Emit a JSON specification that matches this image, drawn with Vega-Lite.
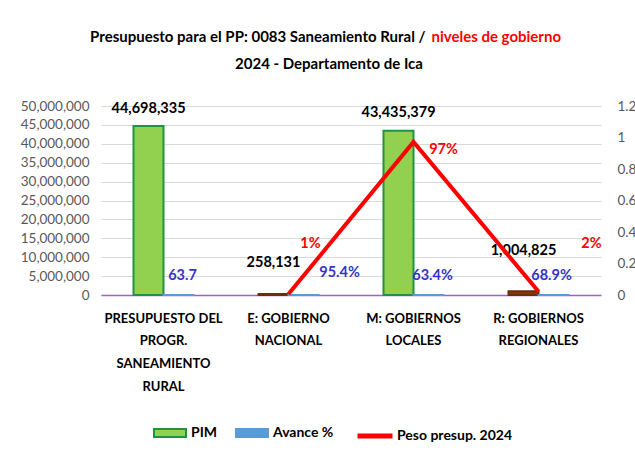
{
  "$schema": "https://vega.github.io/schema/vega-lite/v6.json",
  "width": 500,
  "height": 189,
  "autosize": "none",
  "padding": {"left": 101, "top": 106, "right": 34, "bottom": 159},
  "background": "white",
  "config": {
    "font": "Lato",
    "view": {"stroke": null}
  },
  "datasets": {
    "niveles": [
      {"nivel": "PRESUPUESTO DEL PROGR. SANEAMIENTO RURAL", "PIM": 44698335, "Avance %": 63.7, "peso": null},
      {"nivel": "E: GOBIERNO NACIONAL", "PIM": 258131, "Avance %": 95.4, "peso": 0.006},
      {"nivel": "M: GOBIERNOS LOCALES", "PIM": 43435379, "Avance %": 63.4, "peso": 0.972},
      {"nivel": "R: GOBIERNOS REGIONALES", "PIM": 1004825, "Avance %": 68.9, "peso": 0.022}
    ]
  },
  "data": {"name": "niveles"},
  "encoding": {
    "x": {
      "field": "nivel", "type": "nominal", "sort": null,
      "scale": {"paddingInner": 0.52, "paddingOuter": 0.26},
      "axis": {
        "title": "2024 - Departamento de Ica",
        "titleX": 227.5, "titleY": -232, "titleAlign": "center", "titleBaseline": "middle",
        "titleFontSize": 15, "titleFontWeight": "bold", "titleColor": "#000000",
        "labelAngle": 0, "labelFontSize": 13, "labelFontWeight": "bold", "labelColor": "#000000",
        "labelLineHeight": 22.7, "labelPadding": 17, "labelLimit": 0, "ticks": false,
        "domainColor": "#9A5FD6", "domainWidth": 1.5, "grid": false,
        "labelExpr": "datum.value == 'PRESUPUESTO DEL PROGR. SANEAMIENTO RURAL' ? ['PRESUPUESTO DEL', 'PROGR.', 'SANEAMIENTO', 'RURAL'] : [substring(datum.value, 0, lastindexof(datum.value, ' ')), substring(datum.value, lastindexof(datum.value, ' ') + 1)]"
      }
    }
  },
  "resolve": {"scale": {"y": "independent"}},
  "layer": [
    {
      "transform": [
        {"fold": ["PIM", "Avance %"], "as": ["serie", "valor"]},
        {"calculate": "datum.serie == 'Avance %' ? (datum.nivel == 'PRESUPUESTO DEL PROGR. SANEAMIENTO RURAL' ? format(datum.valor, '.1f') : format(datum.valor, '.1f') + '%') : format(datum.valor, ',d')", "as": "etiqueta"}
      ],
      "encoding": {
        "y": {
          "field": "valor", "type": "quantitative",
          "scale": {"domain": [0, 50000000], "nice": false},
          "axis": {
            "values": [0, 5000000, 10000000, 15000000, 20000000, 25000000, 30000000, 35000000, 40000000, 45000000, 50000000],
            "format": ",d", "grid": true, "gridColor": "#D9D9D9", "domain": false, "ticks": false,
            "labelFontSize": 13.5, "labelColor": "#595959", "labelPadding": 12,
            "title": "Presupuesto para el PP: 0083 Saneamiento Rural /",
            "titleAngle": 0, "titleX": 324, "titleY": -70, "titleAlign": "right", "titleBaseline": "middle",
            "titleFontSize": 15, "titleFontWeight": "bold", "titleColor": "#000000"
          }
        },
        "xOffset": {"field": "serie", "type": "nominal", "scale": {"domain": ["PIM", "Avance %"], "paddingInner": 0, "paddingOuter": 0}}
      },
      "layer": [
        {
          "mark": {"type": "bar", "strokeWidth": 2},
          "encoding": {
            "fill": {
              "condition": {"test": "datum.serie == 'PIM' && (datum.nivel == 'E: GOBIERNO NACIONAL' || datum.nivel == 'R: GOBIERNOS REGIONALES')", "value": "#843C0C"},
              "field": "serie", "type": "nominal",
              "scale": {"domain": ["PIM", "Avance %"], "range": ["#92D050", "#5B9BD5"]},
              "legend": {
                "title": null, "orient": "none", "legendX": 52, "legendY": 310, "direction": "horizontal",
                "symbolType": "M-1,-0.25H1V0.25H-1Z", "symbolSize": 1024, "symbolStrokeWidth": 2,
                "labelFontSize": 14, "labelFontWeight": "bold", "labelColor": "#000000", "labelOffset": 4, "columnPadding": 14
              }
            },
            "stroke": {
              "condition": {"test": "datum.serie == 'PIM' && (datum.nivel == 'E: GOBIERNO NACIONAL' || datum.nivel == 'R: GOBIERNOS REGIONALES')", "value": "#6B2E0A"},
              "field": "serie", "type": "nominal",
              "scale": {"domain": ["PIM", "Avance %"], "range": ["#1E9442", "#5B9BD5"]},
              "legend": {
                "title": null, "orient": "none", "legendX": 52, "legendY": 310, "direction": "horizontal",
                "symbolType": "M-1,-0.25H1V0.25H-1Z", "symbolSize": 1024, "symbolStrokeWidth": 2,
                "labelFontSize": 14, "labelFontWeight": "bold", "labelColor": "#000000", "labelOffset": 4, "columnPadding": 14
              }
            }
          }
        },
        {
          "transform": [{"filter": "datum.serie == 'PIM' && datum.valor > 10000000"}],
          "mark": {"type": "text", "fontSize": 14.5, "fontWeight": "bold", "color": "#000000", "baseline": "middle", "dy": -17.5},
          "encoding": {"text": {"field": "etiqueta"}}
        },
        {
          "transform": [{"filter": "datum.serie == 'PIM' && datum.nivel == 'E: GOBIERNO NACIONAL'"}],
          "mark": {"type": "text", "fontSize": 14.5, "fontWeight": "bold", "color": "#000000", "baseline": "middle", "dy": -31},
          "encoding": {"text": {"field": "etiqueta"}}
        },
        {
          "transform": [{"filter": "datum.serie == 'PIM' && datum.nivel == 'R: GOBIERNOS REGIONALES'"}],
          "mark": {"type": "text", "fontSize": 14.5, "fontWeight": "bold", "color": "#000000", "baseline": "middle", "dy": -40},
          "encoding": {"text": {"field": "etiqueta"}}
        },
        {
          "transform": [{"filter": "datum.serie == 'Avance %' && (datum.nivel == 'PRESUPUESTO DEL PROGR. SANEAMIENTO RURAL' || datum.nivel == 'M: GOBIERNOS LOCALES')"}],
          "mark": {"type": "text", "fontSize": 14.5, "fontWeight": "bold", "color": "#3434C8", "baseline": "middle", "dy": -19, "dx": 4},
          "encoding": {"text": {"field": "etiqueta"}}
        },
        {
          "transform": [{"filter": "datum.serie == 'Avance %' && datum.nivel == 'E: GOBIERNO NACIONAL'"}],
          "mark": {"type": "text", "fontSize": 14.5, "fontWeight": "bold", "color": "#3434C8", "baseline": "middle", "dy": -22, "dx": 36},
          "encoding": {"text": {"field": "etiqueta"}}
        },
        {
          "transform": [{"filter": "datum.serie == 'Avance %' && datum.nivel == 'R: GOBIERNOS REGIONALES'"}],
          "mark": {"type": "text", "fontSize": 14.5, "fontWeight": "bold", "color": "#3434C8", "baseline": "middle", "dy": -19, "dx": -2},
          "encoding": {"text": {"field": "etiqueta"}}
        }
      ]
    },
    {
      "transform": [{"filter": "datum.peso != null"}],
      "encoding": {
        "y": {
          "field": "peso", "type": "quantitative",
          "scale": {"domain": [0, 1.2], "nice": false},
          "axis": {
            "orient": "right", "values": [0, 0.2, 0.4, 0.6, 0.8, 1, 1.2], "format": "~g",
            "grid": false, "domain": false, "ticks": false,
            "labelColor": "#595959", "labelFontSize": 13.5, "labelPadding": 16,
            "title": "niveles de gobierno", "titleAngle": 0, "titleX": -170, "titleY": -70,
            "titleAlign": "left", "titleBaseline": "middle",
            "titleColor": "#FF0000", "titleFontSize": 15, "titleFontWeight": "bold"
          }
        }
      },
      "layer": [
        {
          "mark": {"type": "line", "strokeWidth": 4},
          "encoding": {
            "color": {
              "datum": "Peso presup. 2024", "type": "nominal",
              "scale": {"range": ["#FF0000"]},
              "legend": {
                "title": null, "orient": "none", "legendX": 254, "legendY": 310,
                "symbolType": "stroke", "symbolSize": 1225, "symbolStrokeWidth": 5,
                "labelFontSize": 14, "labelFontWeight": "bold", "labelColor": "#000000", "labelOffset": 2
              }
            }
          }
        },
        {
          "transform": [{"filter": "datum.nivel == 'E: GOBIERNO NACIONAL'"}],
          "mark": {"type": "text", "fontSize": 14.5, "fontWeight": "bold", "color": "#FF0000", "baseline": "middle", "dx": 22, "dy": -50},
          "encoding": {"text": {"field": "peso", "type": "quantitative", "format": ".0%"}}
        },
        {
          "transform": [{"filter": "datum.nivel == 'M: GOBIERNOS LOCALES'"}],
          "mark": {"type": "text", "fontSize": 14.5, "fontWeight": "bold", "color": "#FF0000", "baseline": "middle", "dx": 30, "dy": 8},
          "encoding": {"text": {"field": "peso", "type": "quantitative", "format": ".0%"}}
        },
        {
          "transform": [{"filter": "datum.nivel == 'R: GOBIERNOS REGIONALES'"}],
          "mark": {"type": "text", "fontSize": 14.5, "fontWeight": "bold", "color": "#FF0000", "baseline": "middle", "dx": 53, "dy": -47.5},
          "encoding": {"text": {"field": "peso", "type": "quantitative", "format": ".0%"}}
        }
      ]
    }
  ]
}
